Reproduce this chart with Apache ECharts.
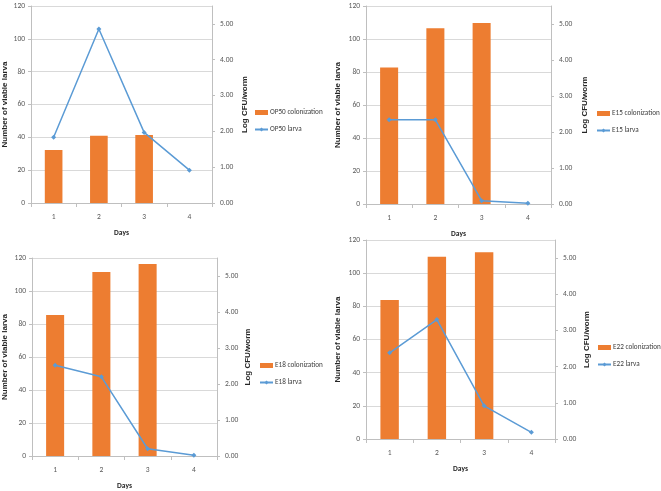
<!DOCTYPE html>
<html>
<head>
<meta charset="utf-8">
<script src="https://cdn.jsdelivr.net/npm/echarts@6/dist/echarts.min.js"></script>
<style>
html,body{margin:0;padding:0;background:#fff;}
#c{width:661px;height:491px;}
</style>
</head>
<body>
<div id="c"></div>
<script>
// ---- data ----
var days = ['1', '2', '3', '4'];

var op50Colonization = [1.48, 1.88, 1.90];
var op50Larva = [40, 106, 43, 20];

var e15Colonization = [3.79, 4.88, 5.03];
var e15Larva = [51, 51, 2, 0.4];

var e18Colonization = [3.92, 5.11, 5.33];
var e18Larva = [55, 48, 4.4, 0.4];

var e22Colonization = [3.84, 5.04, 5.16];
var e22Larva = [52, 72, 20, 4];

var strains = ['OP50', 'E15', 'E18', 'E22'];
var colonizations = [op50Colonization, e15Colonization, e18Colonization, e22Colonization];
var larvae = [op50Larva, e15Larva, e18Larva, e22Larva];

// ---- layout ----
var grids = [
  {left: 28, top: 6, width: 184, height: 197},
  {left: 366, top: 6, width: 185, height: 198},
  {left: 28, top: 258, width: 189, height: 199},
  {left: 366, top: 240, width: 189, height: 199}
];
var leftGaps = [22, 24, 23, 24];
var rightGaps = [29, 30, 27, 28];
var legendPos = [
  {left: 254, top: 109},
  {left: 596, top: 110},
  {left: 259, top: 362},
  {left: 597, top: 344}
];

var ORANGE = '#ED7D31', BLUE = '#5B9BD5';
var CAL = 'Carlito, "Liberation Sans", sans-serif';
var tickFont = {fontFamily: CAL, fontSize: 7.5, color: '#595959'};
var titleFont = {fontFamily: '"Liberation Sans", Arial, sans-serif', fontSize: 8, fontWeight: 'bold', color: '#262626'};

var option = {
  animation: false,
  backgroundColor: '#fff',
  grid: grids.map(function (g) { return Object.assign({containLabel: false}, g); }),
  legend: [],
  xAxis: [],
  yAxis: [],
  series: []
};

strains.forEach(function (s, i) {
  option.xAxis.push({
    type: 'category', gridIndex: i, data: days,
    name: 'Days', nameLocation: 'middle', nameGap: 26,
    nameTextStyle: {fontFamily: CAL, fontSize: 7.5, fontWeight: 'bold', color: '#262626'},
    axisLine: {lineStyle: {color: '#bfbfbf', width: 1}},
    axisTick: {show: true, alignWithLabel: false, length: 4, lineStyle: {color: '#bfbfbf'}},
    axisLabel: Object.assign({margin: 10}, tickFont)
  });
  option.yAxis.push({
    type: 'value', gridIndex: i, min: 0, max: 120, interval: 20, position: 'left',
    name: 'Number of viable larva', nameLocation: 'middle', nameGap: leftGaps[i], nameRotate: 90,
    nameTextStyle: titleFont,
    axisLine: {show: true, lineStyle: {color: '#bfbfbf'}},
    axisTick: {show: true, length: 3, lineStyle: {color: '#bfbfbf'}},
    axisLabel: Object.assign({margin: 6}, tickFont),
    splitLine: {show: true, lineStyle: {color: '#d9d9d9', width: 1}}
  });
  option.yAxis.push({
    type: 'value', gridIndex: i, min: 0, max: 5.5, interval: 1, position: 'right',
    name: 'Log CFU/worm', nameLocation: 'middle', nameGap: rightGaps[i], nameRotate: 90,
    nameTextStyle: titleFont,
    axisLine: {show: true, lineStyle: {color: '#bfbfbf'}},
    axisTick: {show: true, length: 3, lineStyle: {color: '#bfbfbf'}},
    axisLabel: Object.assign({margin: 8, showMaxLabel: false,
      formatter: function (v) { return v.toFixed(2); }}, tickFont),
    splitLine: {show: false}
  });
  option.series.push({
    name: s + ' colonization', type: 'bar', xAxisIndex: i, yAxisIndex: i * 2 + 1,
    data: colonizations[i], barWidth: '39%', itemStyle: {color: ORANGE}, z: 2
  });
  option.series.push({
    name: s + ' larva', type: 'line', xAxisIndex: i, yAxisIndex: i * 2,
    data: larvae[i], symbol: 'diamond', symbolSize: 5,
    lineStyle: {color: BLUE, width: 1.5}, itemStyle: {color: BLUE}, z: 3
  });
  option.legend.push({
    orient: 'vertical', left: legendPos[i].left, top: legendPos[i].top,
    itemWidth: 13, itemHeight: 5, itemGap: 10,
    data: [{name: s + ' colonization', icon: 'rect'}, {name: s + ' larva'}],
    textStyle: {fontFamily: CAL, fontSize: 7.2, color: '#404040', padding: [0, 0, 0, -3]},
    padding: 0
  });
});

var chart = echarts.init(document.getElementById('c'), null, {renderer: 'canvas'});
chart.setOption(option);
</script>
</body>
</html>
